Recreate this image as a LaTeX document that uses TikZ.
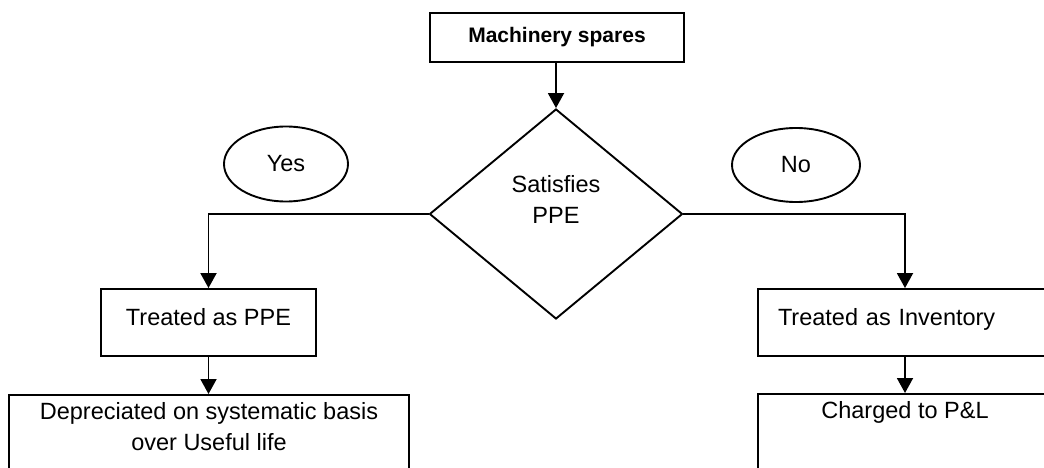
\documentclass[tikz,border=0pt]{standalone}
\usepackage{fontspec}
\setmainfont{Liberation Sans}
\usetikzlibrary{shapes.geometric, arrows.meta}

\begin{document}
\begin{tikzpicture}[x=1pt, y=-1pt, line width=1.9pt,
  font=\fontsize{23.5}{31}\selectfont,
  box/.style={draw, rectangle, inner sep=0pt, align=center},
  midbox/.style={box, minimum height=67pt, text height=17pt, text depth=12pt},
  tallbox/.style={draw, rectangle, anchor=north, inner xsep=0pt, inner ysep=8pt, align=center, text depth=90pt},
  decision/.style={draw, diamond, inner sep=0pt, minimum width=253pt, minimum height=210pt},
  tag/.style={draw, ellipse, inner sep=0pt},
  arr/.style={-{Triangle[width=16pt,length=15pt]}}]

% Frame
\useasboundingbox (0,0) rectangle (1044,468);
\clip (0,0) rectangle (1044,468);

% Start and decision
\node[box, minimum width=254pt, minimum height=49pt, font=\fontsize{21}{25}\selectfont\bfseries] (spares) at (557,37.5) {Machinery spares};
\node[decision] (dec) at (556,214) {};
\node[align=center] (dectxt) at (556,199) {Satisfies\\PPE};

% Yes / No tags
\node[tag, minimum width=124pt, minimum height=75pt] (yes) at (286,164) {Yes};
\node[tag, minimum width=128pt, minimum height=74pt] (no) at (796,165) {No};

% Outcomes
\node[midbox, minimum width=215pt] (ppe) at (208.5,322.5) {Treated as PPE};
\node[midbox, text width=254pt, inner xsep=20pt, align=left] (inv) at (905,322.5) {Treated as Inventory};
\node[tallbox, minimum width=400pt] (dep) at (209,394) {Depreciated on systematic basis\\over Useful life};
\node[tallbox, minimum width=294pt] (chg) at (905,393) {Charged to P\&L};

% Connectors
\draw[arr] (spares.south -| dec.north) -- (dec.north);
\draw[arr] (dec.west) -| (ppe.north);
\draw[arr] (dec.east) -| (inv.north);
\draw[arr] (ppe.south) -- (ppe.south |- dep.north);
\draw[arr] (inv.south) -- (inv.south |- chg.north);
\end{tikzpicture}
\end{document}
